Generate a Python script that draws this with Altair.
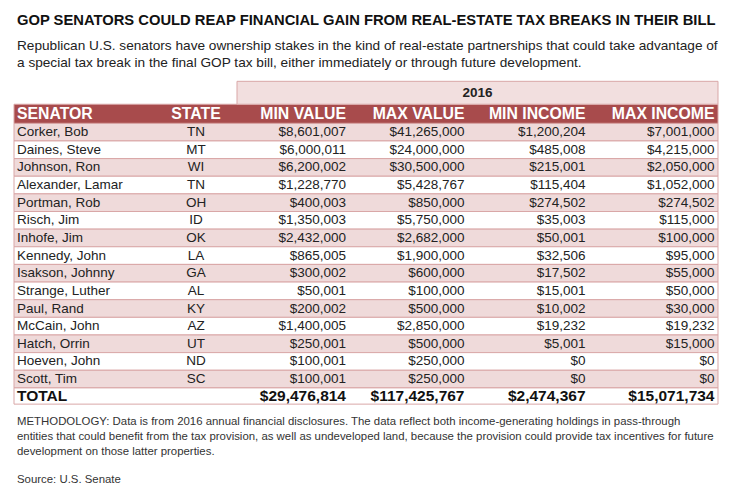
import altair as alt
import pandas as pd

# ---------------- data ----------------
TITLE = "GOP SENATORS COULD REAP FINANCIAL GAIN FROM REAL-ESTATE TAX BREAKS IN THEIR BILL"
SUBTITLE = [
    "Republican U.S. senators have ownership stakes in the kind of real-estate partnerships that could take advantage of",
    "a special tax break in the final GOP tax bill, either immediately or through future development.",
]
NOTE = [
    "METHODOLOGY: Data is from 2016 annual financial disclosures. The data reflect both income-generating holdings in pass-through",
    "entities that could benefit from the tax provision, as well as undeveloped land, because the provision could provide tax incentives for future",
    "development on those latter properties.",
]
SOURCE = "Source: U.S. Senate"
YEAR = "2016"
TOTAL_LABEL = "TOTAL"

headers = ["SENATOR", "STATE", "MIN VALUE", "MAX VALUE", "MIN INCOME", "MAX INCOME"]
senators = ["Corker, Bob", "Daines, Steve", "Johnson, Ron", "Alexander, Lamar", "Portman, Rob",
            "Risch, Jim", "Inhofe, Jim", "Kennedy, John", "Isakson, Johnny", "Strange, Luther",
            "Paul, Rand", "McCain, John", "Hatch, Orrin", "Hoeven, John", "Scott, Tim"]
states = ["TN", "MT", "WI", "TN", "OH", "ID", "OK", "LA", "GA", "AL", "KY", "AZ", "UT", "ND", "SC"]
min_value = [8601007, 6000011, 6200002, 1228770, 400003, 1350003, 2432000, 865005, 300002,
             50001, 200002, 1400005, 250001, 100001, 100001]
max_value = [41265000, 24000000, 30500000, 5428767, 850000, 5750000, 2682000, 1900000, 600000,
             100000, 500000, 2850000, 500000, 250000, 250000]
min_income = [1200204, 485008, 215001, 115404, 274502, 35003, 50001, 32506, 17502,
              15001, 10002, 19232, 5001, 0, 0]
max_income = [7001000, 4215000, 2050000, 1052000, 274502, 115000, 100000, 95000, 55000,
              50000, 30000, 19232, 15000, 0, 0]
totals = [29476814, 117425767, 2474367, 15071734]

# ---------------- layout / style ----------------
W, H = 720, 476
FONT = "Liberation Sans"
COL_X = [9, 188, 338, 456.5, 577.5, 706.5]   # anchor of each column (left, center, right...)
TABLE_L, TABLE_R = 6, 710
BAND_L = 229
ROW_TOP, ROW_H = 115.3, 17.64
N = len(senators)

RED = "#a84b4c"
PINK = "#efdada"
BAND = "#f2dfdf"
LINE = "#d9a7a7"
TEXT = "#222222"

xscale = alt.Scale(domain=list(range(6)), range=COL_X, zero=False, nice=False)
yscale = alt.Scale(domain=[0, N], range=[ROW_TOP, ROW_TOP + N * ROW_H], zero=False, nice=False)

# ---------------- backgrounds ----------------
rows = pd.DataFrame({
    "r": list(range(N + 1)),
    "r2": [i + 1 for i in range(N)] + [N + 0.92],
    "fill": [PINK if i % 2 == 0 else "white" for i in range(N)] + ["white"],
})
row_rects = alt.Chart(rows).mark_rect(stroke=LINE, strokeWidth=1).encode(
    x=alt.value(TABLE_L), x2=alt.value(TABLE_R),
    y=alt.Y("r:Q", scale=yscale, axis=None), y2="r2:Q",
    fill=alt.Fill("fill:N", scale=None),
)
header_rect = alt.Chart(pd.DataFrame({"r": [-1.08], "r2": [0]})).mark_rect(
    fill=RED, stroke=LINE, strokeWidth=1).encode(
    x=alt.value(TABLE_L), x2=alt.value(TABLE_R),
    y=alt.Y("r:Q", scale=yscale, axis=None), y2="r2:Q",
)
band_rect = alt.Chart(pd.DataFrame({"r": [-2.38], "r2": [-1.08]})).mark_rect(
    fill=BAND, stroke=LINE, strokeWidth=1).encode(
    x=alt.value(BAND_L), x2=alt.value(TABLE_R),
    y=alt.Y("r:Q", scale=yscale, axis=None), y2="r2:Q",
)
band_text = alt.Chart(pd.DataFrame({"t": [YEAR], "r": [-1.7]})).mark_text(
    font=FONT, fontSize=13.5, fontWeight="bold", color=TEXT, baseline="middle", align="center").encode(
    x=alt.value((BAND_L + TABLE_R) / 2),
    y=alt.Y("r:Q", scale=yscale, axis=None), text="t:N",
)

# ---------------- header texts ----------------
hdr = pd.DataFrame({"c": list(range(6)), "t": headers, "r": [-0.54] * 6})


def hdr_layer(cols, align):
    return alt.Chart(hdr).transform_filter(
        alt.FieldOneOfPredicate(field="c", oneOf=cols)).mark_text(
        font=FONT, fontSize=15.8, fontWeight="bold", color="white", baseline="middle", align=align).encode(
        x=alt.X("c:Q", scale=xscale, axis=None),
        y=alt.Y("r:Q", scale=yscale, axis=None), text="t:N")


# ---------------- body texts ----------------
names_df = pd.DataFrame({"c": 0, "r": [i + 0.5 for i in range(N)], "t": senators})
states_df = pd.DataFrame({"c": 1, "r": [i + 0.5 for i in range(N)], "t": states})
num_cols = [min_value, max_value, min_income, max_income]
nums_df = pd.concat([
    pd.DataFrame({"c": j + 2, "r": [i + 0.5 for i in range(N)], "v": vals})
    for j, vals in enumerate(num_cols)
], ignore_index=True)

names = alt.Chart(names_df).mark_text(
    font=FONT, fontSize=13.5, color=TEXT, baseline="middle", align="left").encode(
    x=alt.X("c:Q", scale=xscale, axis=None), y=alt.Y("r:Q", scale=yscale, axis=None), text="t:N")
sts = alt.Chart(states_df).mark_text(
    font=FONT, fontSize=13.5, color=TEXT, baseline="middle", align="center").encode(
    x=alt.X("c:Q", scale=xscale, axis=None), y=alt.Y("r:Q", scale=yscale, axis=None), text="t:N")
nums = alt.Chart(nums_df).mark_text(
    font=FONT, fontSize=13.5, color=TEXT, baseline="middle", align="right").encode(
    x=alt.X("c:Q", scale=xscale, axis=None), y=alt.Y("r:Q", scale=yscale, axis=None),
    text=alt.Text("v:Q", format="$,.0f"))

# ---------------- total row ----------------
TR = N + 0.47
tot_label = alt.Chart(pd.DataFrame({"c": [0], "r": [TR], "t": [TOTAL_LABEL]})).mark_text(
    font=FONT, fontSize=15.5, fontWeight="bold", color="#111111", baseline="middle", align="left").encode(
    x=alt.X("c:Q", scale=xscale, axis=None), y=alt.Y("r:Q", scale=yscale, axis=None), text="t:N")
tot_nums = alt.Chart(pd.DataFrame({"c": [2, 3, 4, 5], "r": [TR] * 4, "v": totals})).mark_text(
    font=FONT, fontSize=15.5, fontWeight="bold", color="#111111", baseline="middle", align="right").encode(
    x=alt.X("c:Q", scale=xscale, axis=None), y=alt.Y("r:Q", scale=yscale, axis=None),
    text=alt.Text("v:Q", format="$,.0f"))


# ---------------- titles and notes ----------------
def label(text, x, y, size, weight="normal", color=TEXT):
    return alt.Chart(pd.DataFrame({"t": [text]})).mark_text(
        font=FONT, fontSize=size, fontWeight=weight, color=color, baseline="middle", align="left").encode(
        text="t:N", x=alt.value(x), y=alt.value(y))


texts = [label(TITLE, 9, 12.5, 14.75, "bold", "#111111")]
texts += [label(s, 9, 38 + 17 * i, 13.65) for i, s in enumerate(SUBTITLE)]
texts += [label(s, 9, 413.5 + 15 * i, 11.4, color="#333333") for i, s in enumerate(NOTE)]
texts += [label(SOURCE, 9, 471.5, 11.4, color="#333333")]

chart = alt.layer(
    row_rects, header_rect, band_rect, band_text,
    hdr_layer([0], "left"), hdr_layer([1], "center"), hdr_layer([2, 3, 4, 5], "right"),
    names, sts, nums, tot_label, tot_nums, *texts,
).properties(
    width=W, height=H, padding=0, autosize=alt.AutoSizeParams(type="none"),
    background="white",
).configure_view(stroke=None)

chart.save("out.html", embed_options={"renderer": "svg", "actions": False})
